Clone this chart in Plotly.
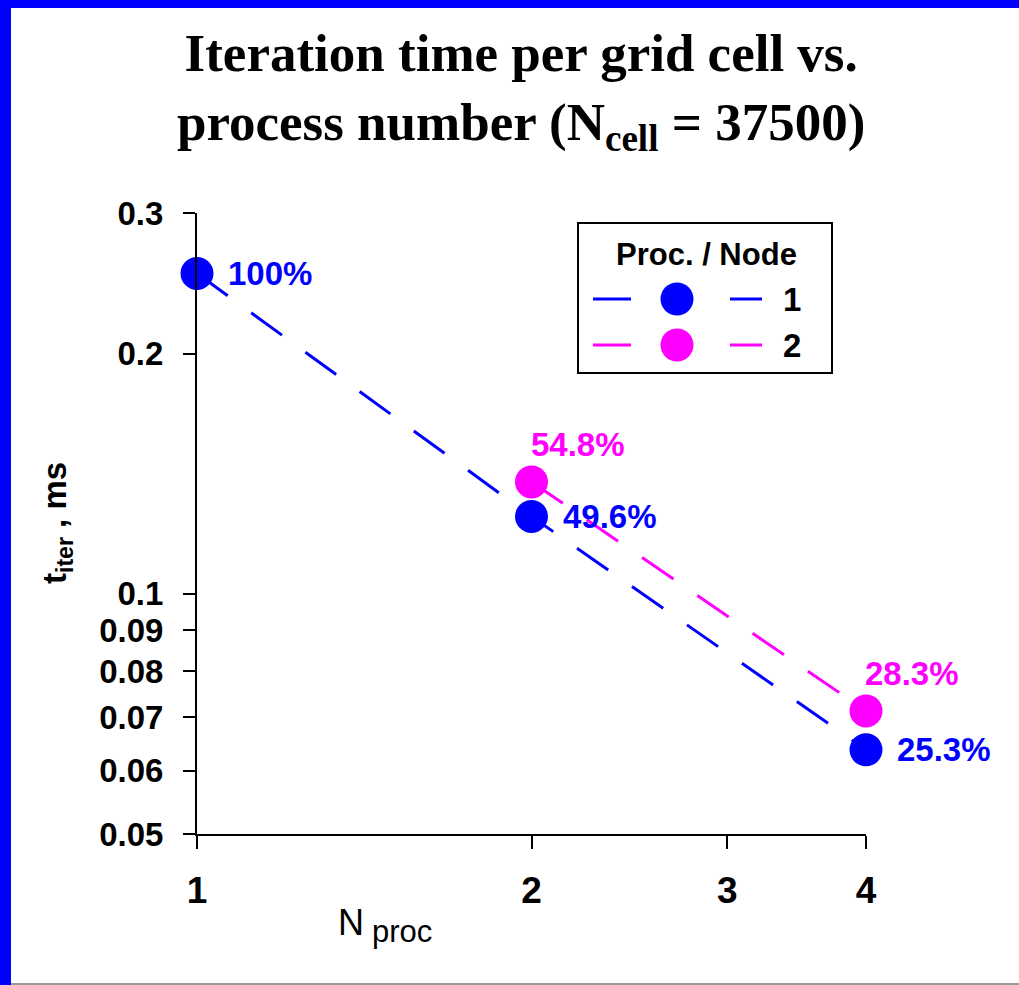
import math
import plotly.graph_objects as go

# Iteration time per grid cell, relative to the single-process run
t_single = 0.252  # ms, 1 process

n_proc_1 = [1, 2, 4]
pct_1 = [100, 49.6, 25.3]          # 1 process per node
n_proc_2 = [2, 4]
pct_2 = [54.8, 28.3]               # 2 processes per node

y_ticks = [0.05, 0.06, 0.07, 0.08, 0.09, 0.1, 0.2, 0.3]
y_tick_text = ["0.05", "0.06", "0.07", "0.08", "0.09", "0.1", "0.2", "0.3"]
x_ticks = [1, 2, 3, 4]

legend_title = "Proc. / Node"
legend_names = ["1", "2"]

BLUE = "#0000FF"
MAGENTA = "#FF00FF"
colors = [BLUE, MAGENTA]

t_1 = [t_single * p / 100 for p in pct_1]
t_2 = [t_single * p / 100 for p in pct_2]

W, H = 1019, 985
L, R, T, B = 197, 153, 213, 151
PW, PH = W - L - R, H - T - B


def px(xp):
    return (xp - L) / PW


def py(yp):
    return (H - B - yp) / PH


SANS = "Liberation Sans, Arial, sans-serif"
NARROW = "Liberation Sans Narrow, Arial Narrow, Liberation Sans, sans-serif"
SERIF = "Liberation Serif, Times New Roman, serif"
DASH = "38px,29px"

fig = go.Figure()

fig.add_trace(go.Scatter(
    x=n_proc_2, y=t_2, mode="lines+markers",
    line=dict(color=MAGENTA, width=3, dash=DASH),
    marker=dict(color=MAGENTA, size=33),
    cliponaxis=False, showlegend=False,
))
fig.add_trace(go.Scatter(
    x=n_proc_1, y=t_1, mode="lines+markers",
    line=dict(color=BLUE, width=3, dash=DASH),
    marker=dict(color=BLUE, size=33),
    cliponaxis=False, showlegend=False,
))

shapes = []
annotations = []

# percentage labels next to each point
for xs, ys, ps, col, dx, dy in (
    (n_proc_1, t_1, pct_1, BLUE, 29, 0),
    (n_proc_2, t_2, pct_2, MAGENTA, -3, 37),
):
    for xv, yv, pv in zip(xs, ys, ps):
        annotations.append(dict(
            x=math.log10(xv), y=math.log10(yv), xref="x", yref="y",
            text=f"{pv:g}%", showarrow=False,
            xanchor="left", yanchor="middle", xshift=dx, yshift=dy,
            font=dict(family=SANS, size=33, color=col, weight="bold"),
        ))

# page frame: blue band on top and left, grey rule at the bottom
shapes.append(dict(type="rect", xref="paper", yref="paper",
                   x0=px(-5), x1=px(11), y0=py(-5), y1=py(H + 5),
                   fillcolor=BLUE, line=dict(width=0), layer="above"))
shapes.append(dict(type="rect", xref="paper", yref="paper",
                   x0=px(-5), x1=px(W + 5), y0=py(8), y1=py(-5),
                   fillcolor=BLUE, line=dict(width=0), layer="above"))
shapes.append(dict(type="line", xref="paper", yref="paper",
                   x0=px(11), x1=px(W), y0=py(984), y1=py(984),
                   line=dict(color="#9a9a9a", width=2)))

# legend box
shapes.append(dict(type="rect", xref="paper", yref="paper",
                   x0=px(578), x1=px(832), y0=py(373), y1=py(223),
                   fillcolor="white", line=dict(color="black", width=2)))
annotations.append(dict(xref="paper", yref="paper", x=px(706), y=py(255),
                        xanchor="center", yanchor="middle",
                        text=legend_title, showarrow=False,
                        font=dict(family=SANS, size=31, color="black", weight="bold")))
for i, (name, col) in enumerate(zip(legend_names, colors)):
    yc = py(299 + 46 * i)
    for a, b in ((593, 631), (730, 762)):
        shapes.append(dict(type="line", xref="paper", yref="paper",
                           x0=px(a), x1=px(b), y0=yc, y1=yc,
                           line=dict(color=col, width=3)))
    shapes.append(dict(type="circle", xref="paper", yref="paper",
                       xsizemode="pixel", ysizemode="pixel",
                       xanchor=px(677), yanchor=yc,
                       x0=-16.5, x1=16.5, y0=-16.5, y1=16.5,
                       fillcolor=col, line=dict(width=0)))
    annotations.append(dict(xref="paper", yref="paper", x=px(792), y=yc,
                            xanchor="center", yanchor="middle",
                            text=name, showarrow=False,
                            font=dict(family=SANS, size=33, color="black", weight="bold")))

# chart title
annotations.append(dict(
    xref="paper", yref="paper", x=px(521), y=py(22),
    xanchor="center", yanchor="top", align="center",
    text="Iteration time per grid cell vs.<br>process number (N<sub>cell</sub> = 37500)",
    showarrow=False,
    font=dict(family=SERIF, size=53, color="black", weight="bold"),
))

# axis titles
annotations.append(dict(xref="paper", yref="paper", x=px(57), y=py(523),
                        xanchor="center", yanchor="middle",
                        text="t<sub>iter</sub> , ms", textangle=-90, showarrow=False,
                        font=dict(family=SANS, size=33, color="black", weight="bold")))
annotations.append(dict(xref="paper", yref="paper", x=px(366), y=py(922),
                        xanchor="right", yanchor="middle", text="N", showarrow=False,
                        font=dict(family=NARROW, size=36, color="black")))
annotations.append(dict(xref="paper", yref="paper", x=px(370), y=py(931),
                        xanchor="left", yanchor="middle", text="proc", showarrow=False,
                        font=dict(family=NARROW, size=31, color="black")))

fig.update_layout(
    width=W, height=H,
    margin=dict(l=L, r=R, t=T, b=B, pad=0),
    paper_bgcolor="white", plot_bgcolor="white",
    xaxis=dict(
        type="log", range=[0, math.log10(4)],
        tickvals=x_ticks, ticktext=[str(v) for v in x_ticks],
        showgrid=False, zeroline=False,
        showline=True, linecolor="black", linewidth=2,
        ticks="outside", ticklen=13, tickwidth=2, tickcolor="black",
        ticklabelstandoff=10,
        tickfont=dict(family=NARROW, size=37, color="black", weight="bold"),
    ),
    yaxis=dict(
        type="log", range=[math.log10(0.05), math.log10(0.3)],
        tickvals=y_ticks, ticktext=y_tick_text,
        showgrid=False, zeroline=False,
        showline=True, linecolor="black", linewidth=2,
        ticks="outside", ticklen=12, tickwidth=2, tickcolor="black",
        ticklabelstandoff=13,
        tickfont=dict(family=SANS, size=33, color="black", weight="bold"),
    ),
    shapes=shapes,
    annotations=annotations,
    showlegend=False,
)

fig.write_html("out.html")
